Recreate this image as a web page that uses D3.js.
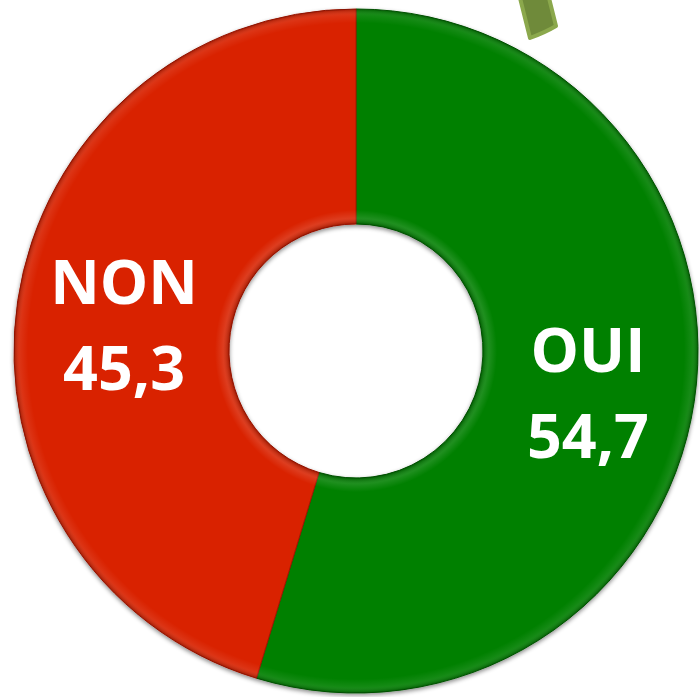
<!DOCTYPE html>
<head>
  <meta charset="utf-8">
  <script src="https://d3js.org/d3.v7.min.js"></script>
  <style>
    body { margin: 0; background: #fff; }
    .label {
      fill: #fff;
      font-family: "Open Sans", sans-serif;
      font-weight: 700;
      font-size: 61px;
      text-anchor: middle;
    }
  </style>
</head>

<body>
  <script>

    var labels = ["OUI", "NON"];
    var values = [54.7, 45.3];
    var valueText = ["54,7", "45,3"];
    var colors = ["#008000", "#d92000"];
    var rims = ["#005a00", "#a51800"];

    var svg = d3.select("body").append("svg")
      .attr("width", 700)
      .attr("height", 697);

    var cx = 356, cy = 351;
    var outer = 342, inner = 127;

    var defs = svg.append("defs");
    var f = defs.append("filter").attr("id", "shadow")
      .attr("x", "-10%").attr("y", "-10%").attr("width", "120%").attr("height", "120%");
    f.append("feDropShadow")
      .attr("dx", 0).attr("dy", 2).attr("stdDeviation", 2)
      .attr("flood-color", "#000").attr("flood-opacity", 0.45);

    // rim shading: darker near outer and inner edge
    var rg = defs.append("radialGradient").attr("id", "rim")
      .attr("gradientUnits", "userSpaceOnUse")
      .attr("cx", 0).attr("cy", 0).attr("r", outer);
    rg.append("stop").attr("offset", inner / outer).attr("stop-color", "#000").attr("stop-opacity", 0.25);
    rg.append("stop").attr("offset", (inner + 6) / outer).attr("stop-color", "#fff").attr("stop-opacity", 0.12);
    rg.append("stop").attr("offset", (inner + 14) / outer).attr("stop-color", "#fff").attr("stop-opacity", 0);
    rg.append("stop").attr("offset", (outer - 14) / outer).attr("stop-color", "#fff").attr("stop-opacity", 0);
    rg.append("stop").attr("offset", (outer - 6) / outer).attr("stop-color", "#fff").attr("stop-opacity", 0.08);
    rg.append("stop").attr("offset", 1).attr("stop-color", "#000").attr("stop-opacity", 0.25);

    var g = svg.append("g")
      .attr("transform", "translate(" + cx + "," + cy + ")");

    var pie = d3.pie().sort(null).value(function(d) { return d; });
    var arcs = pie(values);

    var arc = d3.arc().innerRadius(inner).outerRadius(outer);

    var slices = g.append("g").attr("filter", "url(#shadow)");

    slices.selectAll(".slice").data(arcs).enter()
      .append("path")
      .attr("class", "slice")
      .attr("d", arc)
      .attr("fill", function(d, i) { return colors[i]; })
      .attr("stroke", function(d, i) { return rims[i]; })
      .attr("stroke-width", 1);

    g.selectAll(".shade").data(arcs).enter()
      .append("path")
      .attr("class", "shade")
      .attr("d", arc)
      .attr("fill", "url(#rim)");

    // small olive arrow piece at the top right
    svg.append("path")
      .attr("d", "M520,-2 L549,-2 L556,26 Q546,32 530,38 Z")
      .attr("fill", "#6f8a3a")
      .attr("stroke", "#8ba84c")
      .attr("stroke-width", 4)
      .attr("stroke-linejoin", "round");

    var lab = g.selectAll(".lab").data(arcs).enter()
      .append("g")
      .attr("class", "lab")
      .attr("transform", function(d) {
        var c = arc.centroid(d);
        return "translate(" + c[0] + "," + c[1] + ")";
      });

    lab.append("text")
      .attr("class", "label")
      .attr("y", -13)
      .text(function(d, i) { return labels[i]; });

    lab.append("text")
      .attr("class", "label")
      .attr("y", 73)
      .text(function(d, i) { return valueText[i]; });

  </script>
</body>
